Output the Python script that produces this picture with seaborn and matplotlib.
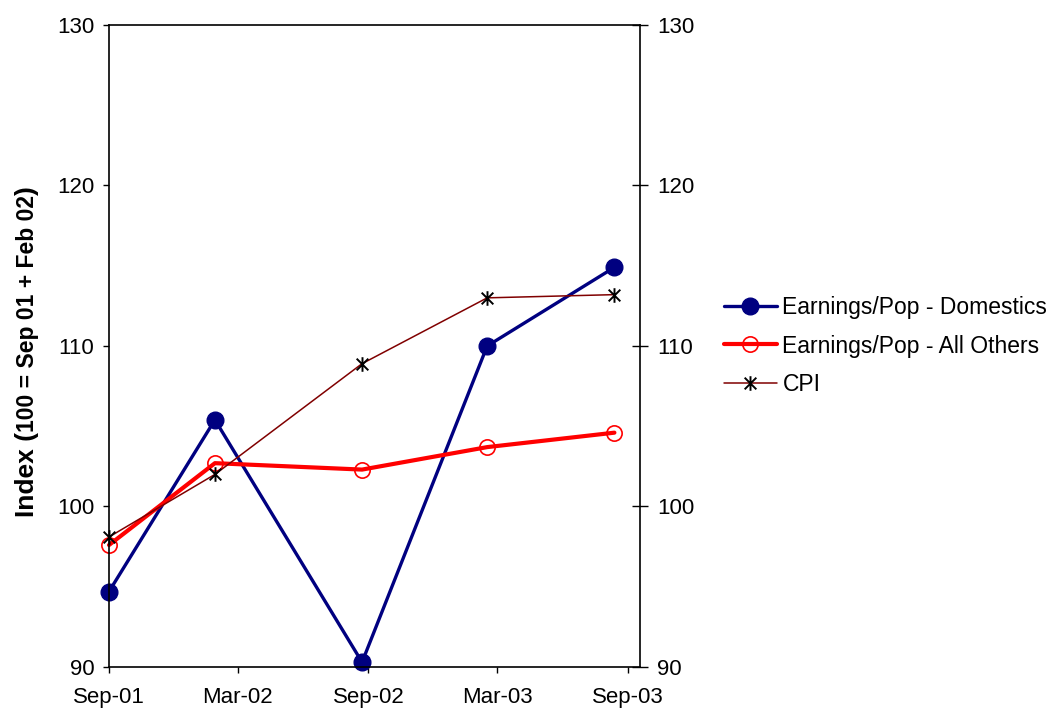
import matplotlib
matplotlib.use("Agg")
import matplotlib.pyplot as plt
from matplotlib.path import Path
import pandas as pd
import seaborn as sns

# Observation dates and index values (100 = Sep 01 + Feb 02)
periods = ["2001-09-01", "2002-01-28", "2002-08-23", "2003-02-15", "2003-08-13"]
domestics = [94.7, 105.4, 90.3, 110.0, 114.9]
all_others = [97.6, 102.7, 102.3, 103.7, 104.6]
cpi = [98.1, 102.0, 108.9, 113.0, 113.2]

series_names = ["Earnings/Pop - Domestics", "Earnings/Pop - All Others", "CPI"]

x_tick_dates = ["2001-09-01", "2002-03-01", "2002-09-01", "2003-03-01", "2003-09-01"]
x_tick_labels = ["Sep-01", "Mar-02", "Sep-02", "Mar-03", "Sep-03"]
x_range = ["2001-09-01", "2003-09-18"]
y_ticks = [90, 100, 110, 120, 130]

ylabel_parts = [("Index (", 19), ("100 = Sep 01 + Feb 02", 16.5), (")", 19)]

sns.set_style("white")
plt.rcParams["font.family"] = ["Liberation Sans", "DejaVu Sans"]
plt.rcParams["text.color"] = "black"

df = pd.DataFrame({
    "period": pd.to_datetime(periods),
    "domestics": domestics,
    "all_others": all_others,
    "cpi": cpi,
})

fig = plt.figure(figsize=(10.53, 7.13), dpi=100)
ax = fig.add_axes([109 / 1053, 1 - 667 / 713, 531 / 1053, 642 / 713])

# asterisk marker: an X crossed by a vertical stroke
star = Path(
    [(-1, -1), (1, 1), (-1, 1), (1, -1), (0, -1.25), (0, 1.25)],
    [Path.MOVETO, Path.LINETO] * 3,
)

sns.lineplot(data=df, x="period", y="domestics", ax=ax, color="#000080",
             lw=2.4, marker="o", markersize=12, markeredgecolor="#000080",
             markerfacecolor="#000080", markeredgewidth=1,
             label=series_names[0], clip_on=False)
sns.lineplot(data=df, x="period", y="all_others", ax=ax, color="#ff0000",
             lw=3.0, marker="o", markersize=11, markeredgecolor="#ff0000",
             markerfacecolor="none", markeredgewidth=1.2,
             label=series_names[1], clip_on=False)
sns.lineplot(data=df, x="period", y="cpi", ax=ax, color="#800000",
             lw=1.1, marker=star, markersize=10.5, markeredgecolor="black",
             markerfacecolor="none", markeredgewidth=1.4,
             label=series_names[2], clip_on=False)

handles, labels = ax.get_legend_handles_labels()
ax.get_legend().remove()

ax.set_ylim(y_ticks[0], y_ticks[-1])
ax.set_yticks(y_ticks)
ax.set_xlim(pd.to_datetime(x_range[0]), pd.to_datetime(x_range[1]))
ax.set_xticks(pd.to_datetime(x_tick_dates))
ax.set_xticklabels(x_tick_labels)
ax.set_xlabel("")
ax.set_ylabel("")

for side in ["left", "right", "top", "bottom"]:
    ax.spines[side].set_visible(True)
    ax.spines[side].set_color("black")
    ax.spines[side].set_linewidth(1.2)

ax.tick_params(axis="y", direction="out", length=4.5, width=1, pad=6,
               labelsize=16, colors="black", left=True)
ax.tick_params(axis="x", direction="out", length=4.5, width=1, pad=10,
               labelsize=16, colors="black", bottom=True)

ax2 = ax.twinx()
ax2.set_ylim(y_ticks[0], y_ticks[-1])
ax2.set_yticks(y_ticks)
ax2.tick_params(axis="y", direction="inout", length=11, width=1, pad=7,
                labelsize=16, colors="black", right=True)
for side in ["left", "right", "top", "bottom"]:
    ax2.spines[side].set_visible(False)
ax.grid(False)
ax2.grid(False)

leg = fig.legend(handles, labels, loc="center left",
                 bbox_to_anchor=(724 / 1053, 1 - 346 / 713), frameon=False,
                 fontsize=16.5, handlelength=2.3, handletextpad=0.25,
                 labelspacing=0.66, borderpad=0, borderaxespad=0)
for t in leg.get_texts():
    t.set_color("black")

# y-axis title built from pieces of different sizes along one baseline
fig.canvas.draw()
renderer = fig.canvas.get_renderer()
y_pos = 1 - 517 / 713
for text, size in ylabel_parts:
    t = fig.text(34 / 1053, y_pos, text, rotation=90, rotation_mode="anchor",
                 ha="left", va="baseline", fontsize=size, fontweight="bold",
                 color="black")
    bb = t.get_window_extent(renderer)
    y_pos = bb.y1 / fig.bbox.height

fig.savefig("out.png", dpi=100)
